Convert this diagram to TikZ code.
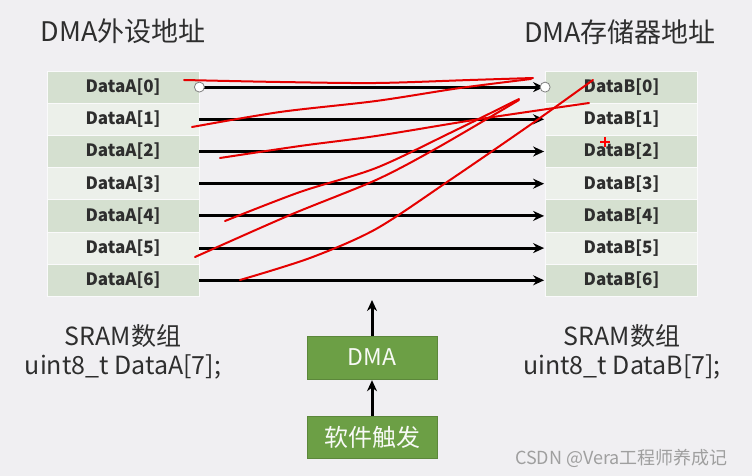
\documentclass[tikz,border=0pt]{standalone}
\usepackage{fontspec}
\setmainfont{Noto Sans CJK SC}
\usepackage{tikz}
\usetikzlibrary{arrows.meta}
\tikzset{>={Stealth[length=11pt,width=10pt]}}
\definecolor{bgcol}{HTML}{F0EFF2}
\definecolor{rowdarkcol}{HTML}{D5E0D0}
\definecolor{rowlightcol}{HTML}{ECF0EA}
\definecolor{boxgreen}{HTML}{6C9F45}
\definecolor{textgray}{HTML}{2E2E2E}
\tikzset{
    cell/.style={minimum width=152pt, minimum height=32.2pt, inner sep=0pt, draw=white!70!bgcol, line width=0.8pt, text=textgray, font=\fontsize{17}{20}\selectfont\bfseries},
    celldark/.style={cell, fill=rowdarkcol},
    celllight/.style={cell, fill=rowlightcol},
    greenbox/.style={fill=boxgreen, draw=boxgreen!85!black, minimum width=130pt, inner sep=0pt, text=white!95!boxgreen},
    handle/.style={circle, fill=white, draw=gray, line width=0.8pt, minimum size=10pt, inner sep=0pt},
    heading/.style={text=textgray, font=\fontsize{27}{30}\selectfont},
    arraytext/.style={text=textgray, align=center, font=\fontsize{25}{29}\selectfont},
    scribble/.style={red!90!black, line width=2pt, line cap=round, line join=round}
}
\begin{document}
\begin{tikzpicture}[x=1pt, y=-1pt]
    \fill[bgcol] (0,0) rectangle (752,476);
    \useasboundingbox (0,0) rectangle (752,476);
    \node[heading] at (123,31) (7d3e19a0) {DMA外设地址};
    \node[heading] at (620,32) (c41f0b62) {DMA存储器地址};
    \node[celldark] at (123,87.1) (0b5e2a11) {DataA[0]};
    \node[celllight] at (123,119.3) (5f90c3d2) {DataA[1]};
    \node[celldark] at (123,151.5) (9a1e4b73) {DataA[2]};
    \node[celllight] at (123,183.7) (e2c07f54) {DataA[3]};
    \node[celldark] at (123,215.9) (38d6a915) {DataA[4]};
    \node[celllight] at (123,248.1) (a7f1e236) {DataA[5]};
    \node[celldark] at (123,280.3) (14bc9d07) {DataA[6]};
    \node[celldark] at (621.5,87.1) (6e2a0f48) {DataB[0]};
    \node[celllight] at (621.5,119.3) (d9c4317b) {DataB[1]};
    \node[celldark] at (621.5,151.5) (21f8e6ac) {DataB[2]};
    \node[celllight] at (621.5,183.7) (8b57d0e3) {DataB[3]};
    \node[celldark] at (621.5,215.9) (f03a62c9) {DataB[4]};
    \node[celllight] at (621.5,248.1) (4c9e1b85) {DataB[5]};
    \node[celldark] at (621.5,280.3) (b6d2f730) {DataB[6]};
    \node[greenbox, minimum height=43pt, font=\fontsize{23}{26}\selectfont] at (372,357.5) (2f7c8e90) {DMA};
    \node[greenbox, minimum height=42pt, font=\fontsize{24}{28}\selectfont] at (372,437) (91d4a6b3) {软件触发};
    \coordinate (e57a30fc) at (372,299);
    \node[arraytext] at (123,351.5) (0ac6d5e8) {SRAM数组\\uint8\_t DataA[7];};
    \node[arraytext] at (622,351.5) (7b1f9e24) {SRAM数组\\uint8\_t DataB[7];};
    \node[text=gray!75, font=\fontsize{18}{20}\selectfont] at (621.5,458) (3d8a4c5f) {CSDN @Vera工程师养成记};
    \path[->, line width=3pt, shorten >=1pt]
    (0b5e2a11) edge (6e2a0f48)
    (5f90c3d2) edge (d9c4317b)
    (9a1e4b73) edge (21f8e6ac)
    (e2c07f54) edge (8b57d0e3)
    (38d6a915) edge (f03a62c9)
    (a7f1e236) edge (4c9e1b85)
    (14bc9d07) edge (b6d2f730)
    (91d4a6b3) edge (2f7c8e90)
    (2f7c8e90) edge (e57a30fc)
    ;
    \node[handle] at (0b5e2a11.east) (53ae07c1) {};
    \node[handle] at (6e2a0f48.west) (ce8b4f2d) {};
    % red pen marks
    \draw[scribble] plot[smooth] coordinates {(184,80) (280,82) (376,83) (470,80) (533,78)};
    \draw[scribble] plot[smooth] coordinates {(192,127) (280,112) (376,101) (460,88) (531,79)};
    \draw[scribble] plot[smooth] coordinates {(220,158) (300,146) (376,136) (480,119) (589,103)};
    \draw[scribble] plot[smooth] coordinates {(225,221) (300,192) (376,168) (450,133) (519,99)};
    \draw[scribble] plot[smooth] coordinates {(195,257) (290,215) (376,180) (437,148) (519,100)};
    \draw[scribble] plot[smooth] coordinates {(240,280) (310,258) (376,229) (450,180) (530,125) (593,80)};
    \draw[red, line width=1.5pt] (600,142) -- (610,142) (605,137) -- (605,147);
\end{tikzpicture}
\end{document}
